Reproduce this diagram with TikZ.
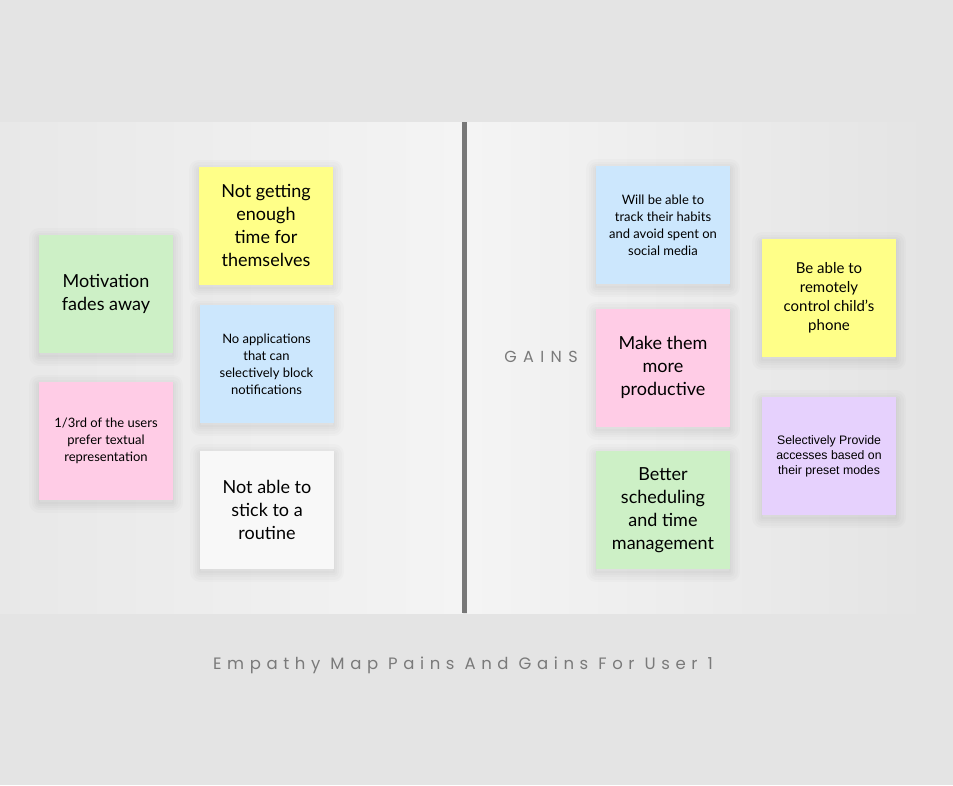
\documentclass[tikz,border=0pt]{standalone}
\usepackage{fontspec}
\setmainfont{Lato}
\newfontfamily\notefont{Lato}
\newfontfamily\robofont{Liberation Sans}
\newfontfamily\headfont[LetterSpace=34]{Poppins}
\newfontfamily\gainsfont[LetterSpace=40]{Poppins}

\definecolor{bgc}{HTML}{E4E4E4}
\definecolor{panelL}{HTML}{E8E8E8}
\definecolor{panelM}{HTML}{F4F4F4}
\definecolor{panelR}{HTML}{E4E4E4}
\definecolor{divc}{HTML}{777777}
\definecolor{noteyellow}{HTML}{FFFF88}
\definecolor{notegreen}{HTML}{CDF0C6}
\definecolor{noteblue}{HTML}{CCE7FD}
\definecolor{notepink}{HTML}{FFCCE6}
\definecolor{notewhite}{HTML}{F8F8F8}
\definecolor{notepurple}{HTML}{E6D1FD}
\definecolor{labelgray}{HTML}{7A7A7A}

\tikzset{
  glow/.style={preaction={draw=black, draw opacity=0.016, line width=#1,
    line join=round, transform canvas={yshift=-3pt}}},
  sticky/.style={rectangle, minimum width=134pt, minimum height=118pt,
    inner sep=0pt, align=center, text=black,
    glow=20pt, glow=15pt, glow=10pt, glow=6pt, glow=2pt},
  bigtxt/.style={font=\notefont\fontsize{18}{23}\selectfont},
  midtxt/.style={font=\notefont\fontsize{15}{19}\selectfont},
  smalltxt/.style={font=\notefont\fontsize{13}{17}\selectfont},
  robotxt/.style={font=\robofont\fontsize{12.3}{15}\selectfont},
}

\begin{document}
\begin{tikzpicture}[x=1pt, y=1pt]
  % canvas and board
  \fill[bgc] (0,0) rectangle (953,-785);
  \useasboundingbox (0,0) rectangle (953,-785);
  \shade[left color=panelL, right color=panelM] (0,-122) rectangle (463,-613);
  \shade[left color=panelM, right color=panelR] (467,-122) rectangle (930,-613);
  \fill[divc] (462,-122) rectangle (467,-613);

  % pains
  \node[sticky, bigtxt, fill=noteyellow] (p1) at (266,-225.5) {Not getting\\enough\\time for\\themselves};
  \node[sticky, bigtxt, fill=notegreen] (p2) at (106,-294) {Motivation\\fades away};
  \node[sticky, smalltxt, fill=noteblue] (p3) at (266.5,-364) {No applications\\that can\\selectively block\\notifications};
  \node[sticky, smalltxt, fill=notepink] (p4) at (106,-440.5) {1/3rd of the users\\prefer textual\\representation};
  \node[sticky, bigtxt, fill=notewhite] (p5) at (267,-510) {Not able to\\stick to a\\routine};

  % gains
  \node[font=\gainsfont\fontsize{16}{16}\selectfont, text=labelgray] (gl) at (541,-357) {GAINS};
  \node[sticky, smalltxt, fill=noteblue] (g1) at (663,-225) {Will be able to\\track their habits\\and avoid spent on\\social media};
  \node[sticky, bigtxt, fill=notepink] (g2) at (663,-367.5) {Make them\\more\\productive};
  \node[sticky, bigtxt, fill=notegreen] (g3) at (663,-510) {Better\\scheduling\\and time\\management};
  \node[sticky, midtxt, fill=noteyellow] (g4) at (829,-298) {Be able to\\remotely\\control child’s\\phone};
  \node[sticky, robotxt, fill=notepurple] (g5) at (829,-456) {Selectively Provide\\accesses based on\\their preset modes};

  % caption
  \node[font=\headfont\fontsize{16.5}{17}\selectfont, text=labelgray] (cap) at (463,-665) {Empathy Map Pains And Gains For User 1};
\end{tikzpicture}
\end{document}
